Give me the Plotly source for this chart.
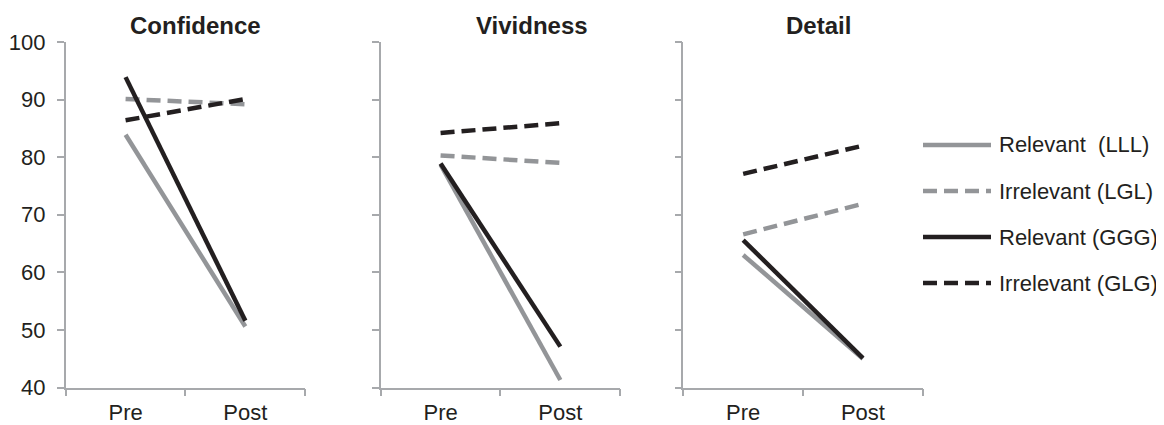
import plotly.graph_objects as go

W, H = 1164, 425
OFF = 8  # page body margin offset in the photographed window

panels = ["Confidence", "Vividness", "Detail"]
phases = ["Pre", "Post"]
series_names = ["Relevant  (LLL)", "Irrelevant (LGL)", "Relevant (GGG)", "Irrelevant (GLG)"]

confidence_lll = [83.9, 50.6]
confidence_lgl = [90.1, 89.2]
confidence_ggg = [93.9, 51.6]
confidence_glg = [86.4, 90.1]

vividness_lll = [78.7, 41.3]
vividness_lgl = [80.3, 79.0]
vividness_ggg = [78.9, 47.1]
vividness_glg = [84.2, 85.9]

detail_lll = [63.0, 45.0]
detail_lgl = [66.6, 71.9]
detail_ggg = [65.6, 45.1]
detail_glg = [77.1, 82.0]

y_ticks = [40, 50, 60, 70, 80, 90, 100]

data = [
    [confidence_lll, confidence_lgl, confidence_ggg, confidence_glg],
    [vividness_lll, vividness_lgl, vividness_ggg, vividness_glg],
    [detail_lll, detail_lgl, detail_ggg, detail_glg],
]

GRAY = "#939598"
BLACK = "#231f20"
AXIS = "#a7a9ac"
TEXT = "#231f20"
DASH = "14px,7px"
FONT = "Liberation Sans, Arial, sans-serif"
styles = [
    dict(color=GRAY, dash="solid"),
    dict(color=GRAY, dash=DASH),
    dict(color=BLACK, dash="solid"),
    dict(color=BLACK, dash=DASH),
]
LW = 4.5


def px(x):
    return (x - OFF) / W


def py(y):
    return 1 - (y - OFF) / H


# pixel layout (window coordinates)
x_left = [65.7, 380.7, 683.3]
x_w = 239.5
y_top, y_bot = 42.0, 387.5

fig = go.Figure()

for p in range(3):
    xa = "x" if p == 0 else f"x{p+1}"
    ya = "y" if p == 0 else f"y{p+1}"
    for s in range(4):
        fig.add_trace(go.Scatter(
            x=phases, y=data[p][s], mode="lines",
            line=dict(color=styles[s]["color"], dash=styles[s]["dash"], width=LW),
            xaxis=xa, yaxis=ya, showlegend=False, hoverinfo="skip",
        ))

layout = dict(
    template="none",
    width=W, height=H,
    margin=dict(l=0, r=0, t=0, b=0, pad=0),
    plot_bgcolor="white", paper_bgcolor="white",
    font=dict(family=FONT, color=TEXT, size=22),
    showlegend=False,
)

for p in range(3):
    xk = "xaxis" if p == 0 else f"xaxis{p+1}"
    yk = "yaxis" if p == 0 else f"yaxis{p+1}"
    ya = "y" if p == 0 else f"y{p+1}"
    xa = "x" if p == 0 else f"x{p+1}"
    layout[xk] = dict(
        domain=[px(x_left[p]), px(x_left[p] + x_w)],
        anchor=ya, type="category", categoryorder="array", categoryarray=phases,
        range=[-0.5, 1.5], tickson="boundaries", ticks="outside", ticklen=7,
        tickcolor=AXIS, tickwidth=1.5, showline=True, linecolor=AXIS, linewidth=1.5,
        showgrid=False, zeroline=False, fixedrange=True, automargin=False,
        tickfont=dict(size=22, color=TEXT, family=FONT), ticklabelstandoff=4,
    )
    layout[yk] = dict(
        domain=[py(y_bot), py(y_top)],
        anchor=xa, range=[40, 100], tickvals=y_ticks, ticks="outside", ticklen=7,
        tickcolor=AXIS, tickwidth=1.5, showline=True, linecolor=AXIS, linewidth=1.5,
        showgrid=False, zeroline=False, showticklabels=(p == 0), fixedrange=True,
        automargin=False,
        tickfont=dict(size=22, color=TEXT, family=FONT), ticklabelstandoff=7,
    )

fig.update_layout(**layout)

# panel titles
title_cx = [195, 532, 818]
for p in range(3):
    fig.add_annotation(
        x=px(title_cx[p]), y=py(25), xref="paper", yref="paper",
        text=f"<b>{panels[p]}</b>", showarrow=False, xanchor="center", yanchor="middle",
        font=dict(size=24, color=TEXT, family=FONT),
    )

# legend (drawn manually to match long line samples)
leg_rows = [145, 191, 237, 283]
for s in range(4):
    yy = py(leg_rows[s])
    fig.add_shape(
        type="line", xref="paper", yref="paper",
        x0=px(923), x1=px(991), y0=yy, y1=yy,
        line=dict(color=styles[s]["color"], dash=styles[s]["dash"], width=LW),
    )
    fig.add_annotation(
        x=px(997), y=yy, xref="paper", yref="paper", text=series_names[s],
        showarrow=False, xanchor="left", yanchor="middle",
        font=dict(size=22, color=TEXT, family=FONT),
    )

fig.write_html("out.html")
